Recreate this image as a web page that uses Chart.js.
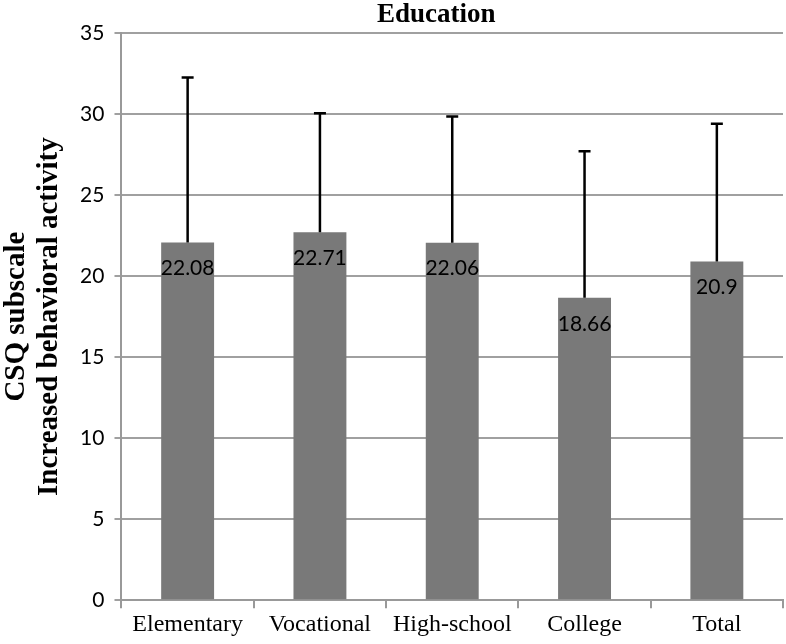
<!DOCTYPE html>
<html>
<head>
<meta charset="utf-8">
<script src="https://cdn.jsdelivr.net/npm/chart.js@4/dist/chart.umd.min.js"></script>
<style>
  html, body { margin: 0; padding: 0; background: #fff; }
  #wrap { width: 786px; height: 644px; }
</style>
</head>
<body>
<div id="wrap"><canvas id="eduChart"></canvas></div>
<script>
// Education — CSQ subscale, increased behavioral activity
const chartTitle = 'Education';
const categories = ['Elementary', 'Vocational', 'High-school', 'College', 'Total'];
const means = [22.08, 22.71, 22.06, 18.66, 20.9];
const errorTops = [32.25, 30.05, 29.85, 27.7, 29.4];
const yTicks = [0, 5, 10, 15, 20, 25, 30, 35];

// barras de error (solo hacia arriba), etiquetas de valor y título
const errorBars = {
  id: 'errorBars',
  afterDatasetsDraw(chart) {
    const { ctx, chartArea, scales: { y } } = chart;
    const meta = chart.getDatasetMeta(0);
    ctx.save();
    meta.data.forEach((bar, i) => {
      const x = bar.x;
      const yTop = y.getPixelForValue(errorTops[i]);
      ctx.strokeStyle = '#000';
      ctx.lineWidth = 2.5;
      ctx.beginPath();
      ctx.moveTo(x, bar.y);
      ctx.lineTo(x, yTop);
      ctx.moveTo(x - 6, yTop);
      ctx.lineTo(x + 6, yTop);
      ctx.stroke();

      ctx.fillStyle = '#000';
      ctx.font = '21px Lato, "Open Sans", sans-serif';
      ctx.textAlign = 'center';
      ctx.textBaseline = 'middle';
      ctx.fillText(String(means[i]), x, bar.y + 26);
    });

    // título un poco a la izquierda del centro del área
    ctx.font = 'bold 27px "Liberation Serif", serif';
    ctx.textAlign = 'center';
    ctx.textBaseline = 'middle';
    ctx.fillText(chartTitle, (chartArea.left + chartArea.right) / 2 - 16, 15);
    ctx.restore();
  }
};

const ctx = document.getElementById('eduChart').getContext('2d');
new Chart(ctx, {
  type: 'bar',
  data: {
    labels: categories,
    datasets: [{
      data: means,
      backgroundColor: '#797979',
      borderWidth: 0,
      barPercentage: 0.8,
      categoryPercentage: 0.5
    }]
  },
  options: {
    responsive: true,
    maintainAspectRatio: false,
    animation: false,
    layout: { padding: { left: 0, right: 3, top: 33, bottom: 3 } },
    plugins: {
      legend: { display: false },
      tooltip: { enabled: false },
      title: { display: false }
    },
    scales: {
      x: {
        grid: { display: true, offset: true, drawOnChartArea: false, drawTicks: true, tickLength: 8, color: '#999', lineWidth: 2 },
        border: { display: true, color: '#999', width: 2 },
        ticks: {
          color: '#000',
          padding: 2,
          font: { family: '"Liberation Serif", serif', size: 24 }
        }
      },
      y: {
        min: 0,
        max: 35,
        afterBuildTicks(axis) { axis.ticks = yTicks.map(v => ({ value: v })); },
        grid: { color: '#a0a0a0', lineWidth: 2, drawTicks: true, tickLength: 7 },
        border: { display: true, color: '#999', width: 2 },
        ticks: {
          color: '#000',
          padding: 10,
          font: { family: 'Lato, "Open Sans", sans-serif', size: 21 }
        },
        title: {
          display: true,
          text: ['CSQ subscale', 'Increased behavioral activity'],
          color: '#000',
          font: { family: '"Liberation Serif", serif', size: 29, weight: 'bold', lineHeight: 1.14 },
          padding: { top: 0, bottom: 4 }
        }
      }
    }
  },
  plugins: [errorBars]
});
</script>
</body>
</html>
